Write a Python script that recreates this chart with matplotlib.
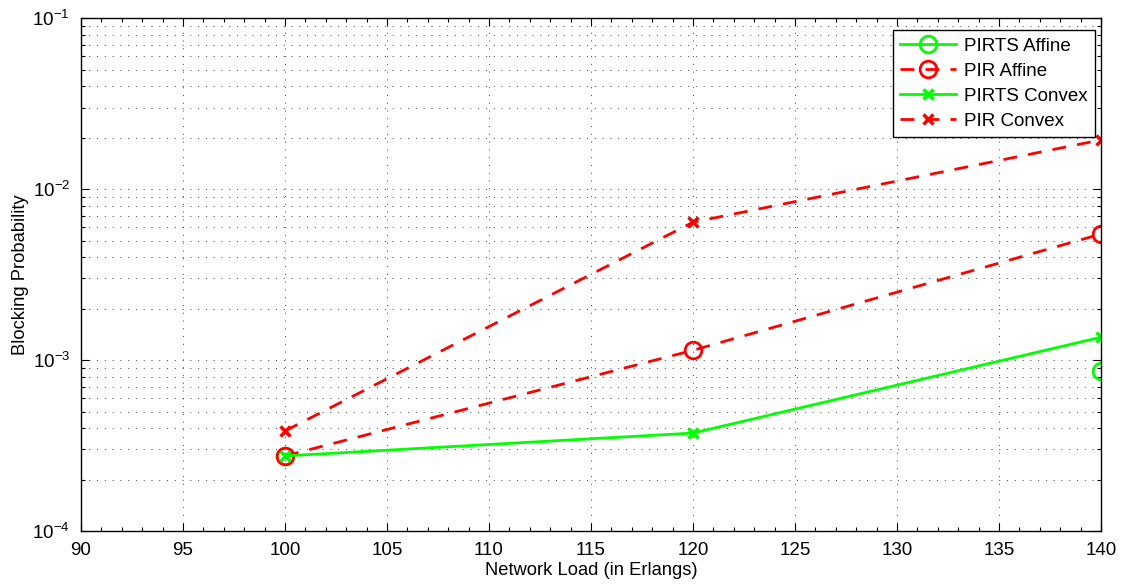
import numpy as np
import matplotlib
matplotlib.use("Agg")
import matplotlib.pyplot as plt
from matplotlib.ticker import MultipleLocator, LogLocator, NullFormatter

plt.rcParams['font.family'] = ['Liberation Sans', 'DejaVu Sans']

load = [100, 120, 140]
pirts_affine = [2.75e-4, np.nan, 8.6e-4]
pir_affine = [2.75e-4, 1.14e-3, 5.46e-3]
pirts_convex = [2.75e-4, 3.74e-4, 1.36e-3]
pir_convex = [3.85e-4, 6.4e-3, 1.94e-2]

x_ticks = list(range(90, 141, 5))

fig = plt.figure(figsize=(11.24, 5.85), dpi=100)
ax = fig.add_axes([0.0721, 0.0923, 0.9074, 0.8767])

green = '#00ff00'
red = '#ff0000'
lw = 2.0
ax.plot(load, pirts_affine, '-', color=green, lw=lw, marker='o', ms=12,
        mfc='none', mew=2.0, label='PIRTS Affine')
ax.plot(load, pir_affine, '--', color=red, lw=lw, marker='o', ms=12,
        mfc='none', mew=2.0, dashes=(5, 4), label='PIR Affine')
ax.plot(load, pirts_convex, '-', color=green, lw=lw, marker='x', ms=6.5,
        mew=2.5, label='PIRTS Convex')
ax.plot(load, pir_convex, '--', color=red, lw=lw, marker='x', ms=6.5,
        mew=2.5, dashes=(5, 4), label='PIR Convex')

ax.set_yscale('log')
ax.set_xlim(90, 140)
ax.set_ylim(1e-4, 1e-1)
ax.set_xticks(x_ticks)
ax.xaxis.set_minor_locator(MultipleLocator(1))
ax.yaxis.set_major_locator(LogLocator(base=10, numticks=10))
ax.yaxis.set_minor_locator(LogLocator(base=10, subs=np.arange(2, 10), numticks=20))
ax.yaxis.set_minor_formatter(NullFormatter())

ax.tick_params(which='both', direction='in', top=True, right=True,
               labelsize=13.5, width=0.8)
ax.tick_params(which='major', length=6)
ax.tick_params(which='minor', length=3)
ax.tick_params(axis='x', which='major', pad=8)
ax.tick_params(axis='y', which='major', pad=8)

grid_style = dict(color='black', linestyle=(0, (1, 7)), linewidth=0.7, alpha=0.75)
ax.grid(True, which='major', axis='both', **grid_style)
ax.grid(True, which='minor', axis='y', **grid_style)

for sp in ax.spines.values():
    sp.set_linewidth(1.0)

ax.set_xlabel('Network Load (in Erlangs)', fontsize=13.2, labelpad=2)
ax.set_ylabel('Blocking Probability', fontsize=13.2)
ax.yaxis.set_label_coords(-0.051, 0.5)

leg = ax.legend(loc='upper right', bbox_to_anchor=(0.9941, 0.9766),
                fontsize=13.5, handlelength=3.0,
                fancybox=False, edgecolor='black', framealpha=1,
                borderaxespad=0.0, labelspacing=0.42, handletextpad=0.4,
                borderpad=0.4)
leg.get_frame().set_linewidth(1.0)

fig.savefig('out.png', dpi=100)
